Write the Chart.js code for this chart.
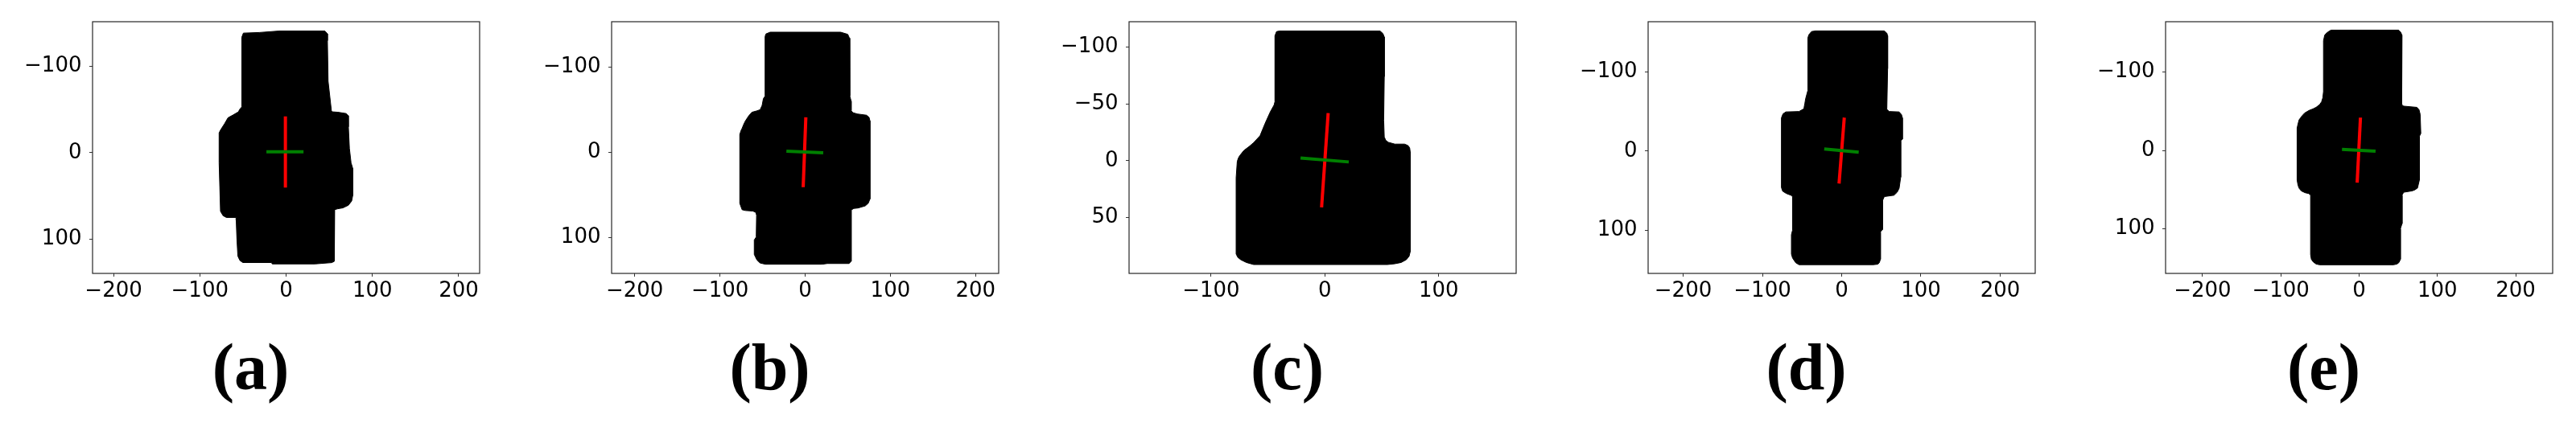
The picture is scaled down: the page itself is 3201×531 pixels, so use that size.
<!DOCTYPE html>
<html lang="en">
<head>
  <meta charset="UTF-8">
  <title>Shapes and principal axes</title>
  <script src="https://cdn.jsdelivr.net/npm/chart.js"></script>
  <style>
    body { margin: 0; width: 3201px; height: 531px; background: #fff; position: relative; overflow: hidden; }
    canvas { position: absolute; top: 0; }
    .lbl { position: absolute; top: 416px; width: 240px; text-align: center;
           font: bold 82px "Liberation Serif", serif; line-height: 1; color: #000; }
  </style>
</head>
<body>
<script>
  // tick values
  const xTicksWide = [-200, -100, 0, 100, 200];
  const xTicksC = [-100, 0, 100];
  const yTicksWide = [-100, 0, 100];
  const yTicksC = [-100, -50, 0, 50];
  const panelLabels = ['(a)', '(b)', '(c)', '(d)', '(e)'];

  // outlines [x, y]  (y grows downward, image coords)
  const shapeA = [[-51.3,-134],[-49.5,-138.8],[-31,-139.5],[-8,-141.2],[45,-141.2],[47.9,-138],[47.9,-130],[48.7,-83],
    [52.5,-49],[53.2,-47.5],[60,-47],[69.6,-45.5],[72,-43],[72.2,-30],[73.4,-5],[75.3,11.7],[77.2,18],[77.2,49.8],
    [76,56],[72.2,60.9],[65.8,64],[60,65],[56.3,66],[56.3,122],[55.5,126],[53,127.5],[33.5,129],[-16,129],
    [-17,127.4],[-50.2,127.4],[-53.5,125],[-55.9,120],[-57,100],[-57.8,78.3],[-58,75.1],[-69.2,75.1],[-73,73],
    [-76,68],[-76.8,40],[-77.6,11.7],[-77.6,-23],[-76,-26.3],[-71.1,-34],[-67.3,-40.6],[-61.6,-43.7],
    [-55.1,-47.5],[-54,-50],[-51.3,-53.2],[-51.3,-134]];
  const shapeB = [[-47,-136],[-46,-139],[-41,-141],[41.6,-141],[50,-138.5],[52,-134],[52.4,-100],[52.4,-66],
    [54,-60],[54,-49],[56,-46.5],[61,-45],[72,-43.5],[75,-41],[76,-37],[76,55],[74,60],[70.5,63],[62,65.5],
    [57,66],[54,68],[54,128],[51.6,130.7],[26,130.7],[20,131.5],[-47,131.5],[-53,130],[-56.6,126.5],[-59.7,120],
    [-59.7,103],[-57.4,99.5],[-57,74],[-58,70.5],[-61.6,69],[-70,68.5],[-74,67.5],[-76.7,60],[-76.7,-21],
    [-75,-26],[-74,-28],[-72,-33],[-70,-37],[-66,-43],[-62.4,-47],[-57,-48.5],[-52.8,-50],[-50.5,-55],
    [-49,-63],[-47,-66],[-47,-136]];
  const shapeC = [[-43.9,-110],[-42.5,-113.7],[-40,-114.2],[48.5,-114.2],[51,-112],[52.2,-109],[52.2,-74],
    [51.7,-35.6],[52.2,-21],[53.5,-18],[55.7,-16.3],[61.5,-14.7],[70,-14.7],[73,-13.5],[74.5,-11.5],[75,-8],
    [75,80],[74,84],[71.6,87],[67,89.5],[61.5,90.6],[55,91.3],[-62.6,91.3],[-69,89.5],[-74,87],[-76.5,85],
    [-78,82],[-78,15],[-77,0.5],[-76,-2.5],[-75,-4.3],[-71.3,-9],[-66,-13],[-62.6,-16],[-57,-22],[-52.5,-33],
    [-48,-43],[-44.7,-49],[-43.9,-52],[-43.9,-110]];
  const shapeD = [[-42.6,-143],[-41.4,-147],[-38,-151],[-33,-151.8],[53.8,-151.8],[57,-149],[58,-145.6],
    [58,-104],[57,-52.7],[60,-50],[72.5,-49.5],[75.5,-46],[76.6,-42],[76.6,-15],[74.5,-13],[74.5,33],
    [72.5,47],[70,52],[66,55.8],[53.8,57.5],[51.8,62],[51.8,98.8],[48.9,102],[48.9,136.7],[47.5,141],
    [45.5,142.9],[40,143.5],[-53.8,143.5],[-58,141],[-62,135],[-63.4,130],[-63.4,105.7],[-62,100],
    [-62,57.5],[-64,55.8],[-70,53.5],[-74.5,50.6],[-76,46],[-76,-42],[-74,-47],[-70.4,-49.5],[-53.8,-50],
    [-48.5,-53],[-47.6,-54],[-46.5,-60],[-45.5,-66],[-42.6,-76.8],[-42.6,-143]];
  const shapeE = [[-45.5,-140],[-44,-147],[-42,-149.5],[-38,-152.5],[-35.8,-153.6],[50.6,-153.6],[53,-151],
    [54.8,-147],[54.8,-84.5],[54,-60],[55,-57.5],[57,-56.5],[73.8,-55],[76.5,-52],[78,-46],[78.8,-21.6],
    [77,-18],[77,37.7],[74.6,48],[71,50.5],[67.4,51.7],[57,53.4],[54.8,57],[54.8,93.5],[52.7,100],[52.7,139],
    [51,143],[48.5,145],[44,146],[-50.6,146],[-55,145],[-58.5,142.5],[-61,139],[-62,133],[-62,57],
    [-64.5,55],[-69,54],[-73.8,51.7],[-76.5,48.5],[-78,44.7],[-79.2,38],[-79.2,-28.6],[-78,-34],[-76.7,-39],
    [-73,-44],[-69.5,-47.8],[-64,-51],[-59,-53],[-55,-55],[-50.6,-58.3],[-48,-62],[-46.4,-67],[-45.5,-75],
    [-45.5,-140]];

  // principal axes: major (red) and minor (green)
  const redA = [[-0.8,-42.2],[-0.8,40.3]];
  const greenA = [[-22.8,-1],[20.2,-1]];
  const redB = [[0.8,-41],[-2.3,41]];
  const greenB = [[-22,-1.3],[21.2,0.6]];
  const redC = [[2.9,-42],[-2.9,41]];
  const greenC = [[-21.4,-2.4],[21,1]];
  const redD = [[3.3,-42.3],[-3.3,41]];
  const greenD = [[-22,-2.75],[21.5,1.4]];
  const redE = [[1.7,-41.9],[-2.5,41.2]];
  const greenE = [[-21.9,-1.4],[21,1]];

  const panels = [
    { shape: shapeA, red: redA, green: greenA, xTicks: xTicksWide, yTicks: yTicksWide, xlim: [-224.3, 224.3], ylim: [-152, 140], left: 115 },
    { shape: shapeB, red: redB, green: greenB, xTicks: xTicksWide, yTicks: yTicksWide, xlim: [-227.1, 227.1], ylim: [-153.3, 142.3], left: 760 },
    { shape: shapeC, red: redC, green: greenC, xTicks: xTicksC, yTicks: yTicksC, xlim: [-172.1, 168.1], ylim: [-122.4, 99.1], left: 1403 },
    { shape: shapeD, red: redD, green: greenD, xTicks: xTicksWide, yTicks: yTicksWide, xlim: [-244.2, 244.2], ylim: [-163.4, 154.5], left: 2048 },
    { shape: shapeE, red: redE, green: greenE, xTicks: xTicksWide, yTicks: yTicksWide, xlim: [-247.2, 247.2], ylim: [-164.3, 157], left: 2691 }
  ];

  const AXW = 110, FW = 481, FH = 313, TOP = 27, RPAD = 30, CH = 400;

  const toXY = pts => pts.map(p => ({ x: p[0], y: p[1] }));
  const fmt = v => String(v).replace('-', '\u2212');
  const tickFont = { family: 'DejaVu Sans', size: 26 };

  // matplotlib-style box around the plot
  const framePlugin = {
    id: 'frame',
    afterDraw(chart) {
      const { ctx, chartArea: a } = chart;
      ctx.save();
      ctx.strokeStyle = '#262626';
      ctx.lineWidth = 1.2;
      ctx.strokeRect(a.left, a.top, a.right - a.left, a.bottom - a.top);
      ctx.restore();
    }
  };

  panels.forEach((p, i) => {
    const cv = document.createElement('canvas');
    cv.width = AXW + FW + RPAD;
    cv.height = CH;
    cv.style.left = (p.left - AXW) + 'px';
    document.body.appendChild(cv);

    new Chart(cv, {
      type: 'line',
      data: {
        datasets: [
          { data: toXY(p.shape), fill: 'shape', backgroundColor: '#000', borderColor: '#000',
            borderWidth: 1, pointRadius: 0, tension: 0, order: 3 },
          { data: toXY(p.red), borderColor: '#ff0000', borderWidth: 4, pointRadius: 0, fill: false, order: 2 },
          { data: toXY(p.green), borderColor: '#008000', borderWidth: 4, pointRadius: 0, fill: false, order: 1 }
        ]
      },
      options: {
        responsive: false,
        animation: false,
        devicePixelRatio: 1,
        layout: { padding: { top: TOP, right: RPAD, left: 0, bottom: 0 } },
        plugins: { legend: { display: false }, tooltip: { enabled: false } },
        scales: {
          x: {
            type: 'linear', min: p.xlim[0], max: p.xlim[1],
            afterFit: s => { s.height = CH - TOP - FH; },
            afterBuildTicks: s => { s.ticks = p.xTicks.map(v => ({ value: v })); },
            grid: { drawOnChartArea: false, drawTicks: true, tickLength: 4, color: '#333' },
            border: { display: false },
            ticks: { font: tickFont, color: '#000', padding: 3, maxRotation: 0, autoSkip: false, callback: fmt }
          },
          y: {
            type: 'linear', reverse: true, min: p.ylim[0], max: p.ylim[1],
            afterFit: s => { s.width = AXW; },
            afterBuildTicks: s => { s.ticks = p.yTicks.map(v => ({ value: v })); },
            grid: { drawOnChartArea: false, drawTicks: true, tickLength: 4, color: '#333' },
            border: { display: false },
            ticks: { font: tickFont, color: '#000', padding: 9.5, autoSkip: false, callback: fmt }
          }
        }
      },
      plugins: [framePlugin]
    });

    const lbl = document.createElement('div');
    lbl.className = 'lbl';
    lbl.textContent = panelLabels[i];
    lbl.style.left = (p.left + FW / 2 - 44 - 120) + 'px';
    document.body.appendChild(lbl);
  });
</script>
</body>
</html>
